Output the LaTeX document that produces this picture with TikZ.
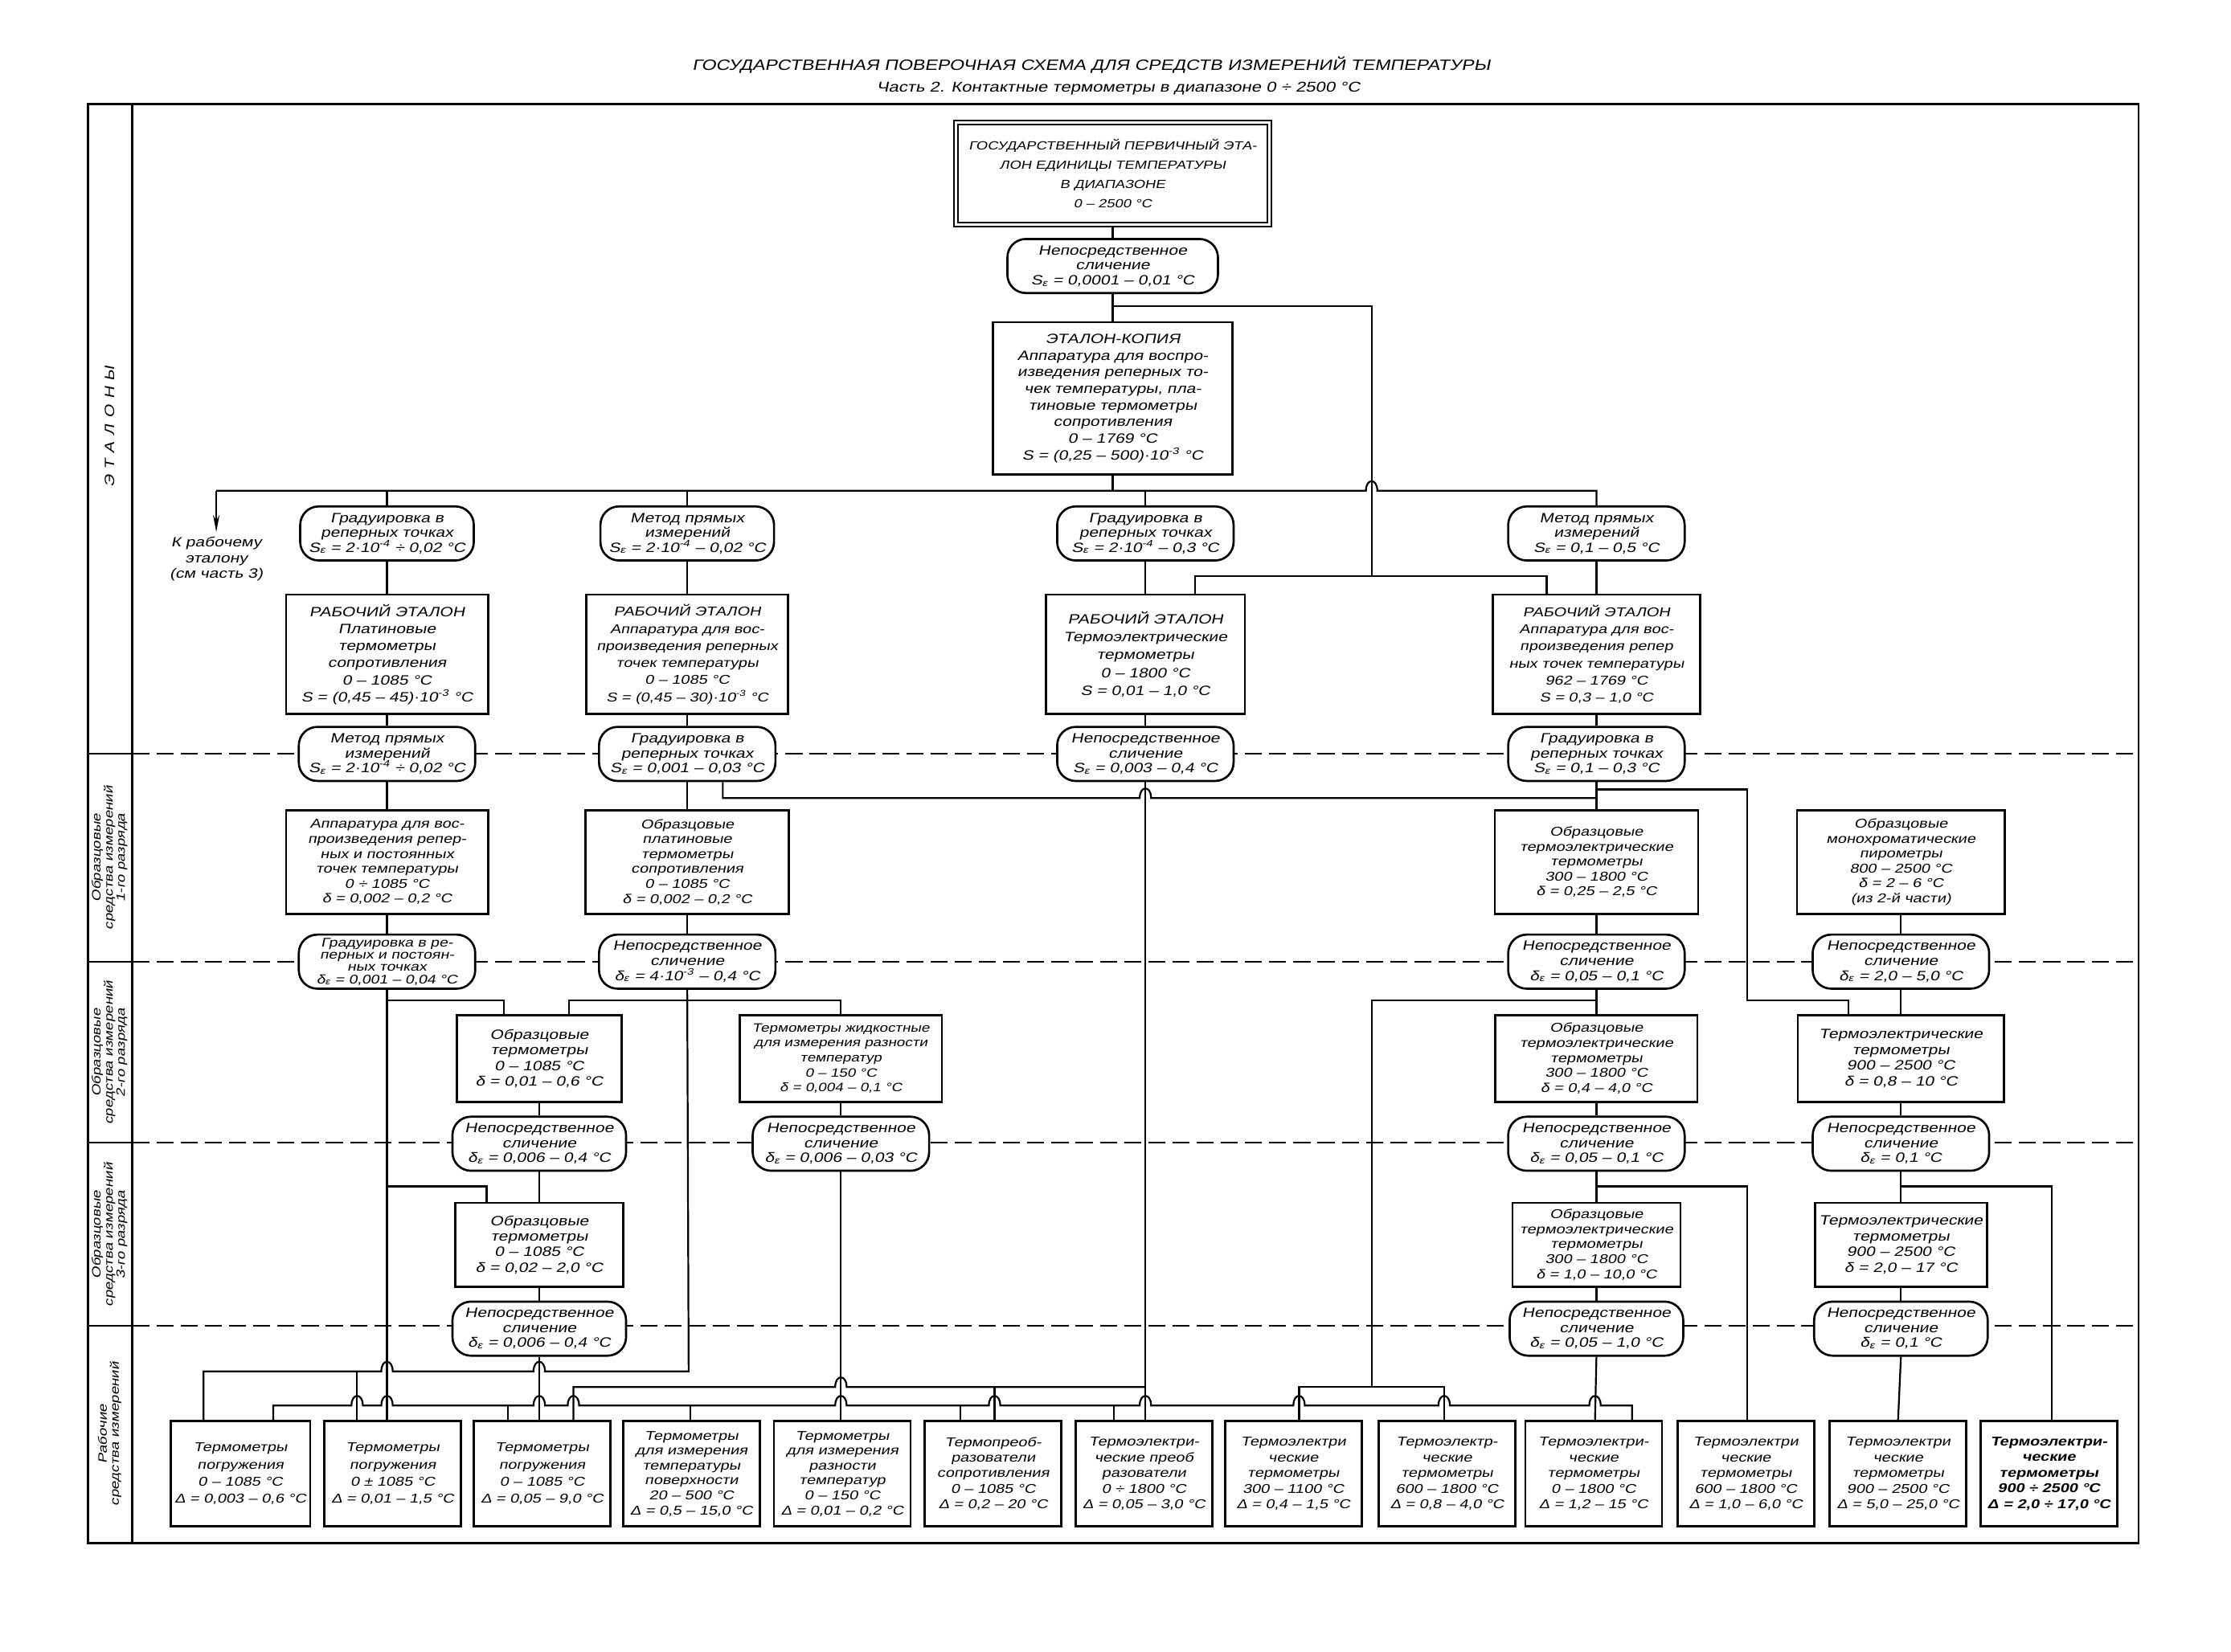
\documentclass[tikz,border=0pt]{standalone}
\usepackage{fontspec}
\setmainfont{Liberation Sans}[FakeSlant=0.2,FakeStretch=1.25]
\usetikzlibrary{arrows.meta}
\tikzset{
  ebox/.style={draw,line width=1.5pt,fill=white,align=center,inner sep=1pt,font=\fontsize{9}{10.5}\selectfont},
  oval/.style={ebox,rounded corners=13pt,minimum width=124,minimum height=38,font=\fontsize{9.5}{10.5}\selectfont},
  wbox/.style={ebox,minimum width=96,minimum height=74,font=\fontsize{9}{12}\selectfont},
  link/.style={line width=1.25pt},
  rowline/.style={line width=1pt,dash pattern=on 12pt off 5pt},
  side/.style={rotate=90,align=center,font=\fontsize{8.5}{8.5}\selectfont},
}
\newcommand{\hop}[2]{-- ({#1-4},#2) .. controls ({#1-4},{#2-9}) and ({#1+4},{#2-9}) .. ({#1+4},#2)}
\begin{document}
\begin{tikzpicture}[x=1pt,y=-1pt]
\useasboundingbox (0,0) rectangle (1568,1161);
\node[font=\fontsize{10.5}{12}\selectfont] (title) at (767,46) {ГОСУДАРСТВЕННАЯ ПОВЕРОЧНАЯ СХЕМА ДЛЯ СРЕДСТВ ИЗМЕРЕНИЙ ТЕМПЕРАТУРЫ};
\node[font=\fontsize{10}{12}\selectfont] (subtitle) at (786,62) {Часть 2. Контактные термометры в диапазоне 0 ÷ 2500 °C};
\draw[line width=1.6pt] (62,73) rectangle (1503,1085);
\draw[line width=1.4pt] (93,73) -- (93,1085);
\foreach \y in {530,676,803,932}{
  \draw[line width=1.2pt] (62,\y) -- (93,\y);
  \draw[rowline] (93,\y) -- (1503,\y);
}
\node[side,font=\fontsize{9.5}{9.5}\selectfont\addfontfeature{LetterSpace=45}] (lab0) at (77,300) {ЭТАЛОНЫ};
\node[side] (lab1) at (77,603) {Образцовые\\средства измерений\\1-го разряда};
\node[side] (lab2) at (77,740) {Образцовые\\средства измерений\\2-го разряда};
\node[side] (lab3) at (77,868) {Образцовые\\средства измерений\\3-го разряда};
\node[side] (lab4) at (77,1008) {Рабочие\\средства измерений};

\node[ebox,double,double distance=1.6pt,line width=1.2pt,minimum width=220,minimum height=72,font=\fontsize{8.3}{13.5}\selectfont] (prim) at (782,122) {ГОСУДАРСТВЕННЫЙ ПЕРВИЧНЫЙ ЭТА-\\ЛОН ЕДИНИЦЫ ТЕМПЕРАТУРЫ\\В ДИАПАЗОНЕ\\0 -- 2500 °C};
\node[oval,minimum width=148] (cmp0) at (782,187) {Непосредственное\\сличение\\S\textsubscript{ε} = 0,0001 -- 0,01 °C};
\node[ebox,minimum width=168,minimum height=107,font=\fontsize{9.5}{11.7}\selectfont] (copy) at (782,280) {ЭТАЛОН-КОПИЯ\\Аппаратура для воспро-\\изведения реперных то-\\чек температуры, пла-\\тиновые термометры\\сопротивления\\0 -- 1769 °C\\S = (0,25 -- 500)·10\textsuperscript{-3} °C};
\node[anchor=north,align=center,font=\fontsize{9.5}{11}\selectfont] (refnote) at (152,374) {К рабочему\\эталону\\(см часть 3)};

\node[oval,minimum width=122] (sr1) at (272,375) {Градуировка в\\реперных точках\\S\textsubscript{ε} = 2·10\textsuperscript{-4} ÷ 0,02 °C};
\node[oval,minimum width=122] (sr2) at (483,375) {Метод прямых\\измерений\\S\textsubscript{ε} = 2·10\textsuperscript{-4} -- 0,02 °C};
\node[oval] (sr3) at (805,375) {Градуировка в\\реперных точках\\S\textsubscript{ε} = 2·10\textsuperscript{-4} -- 0,3 °C};
\node[oval] (sr4) at (1122,375) {Метод прямых\\измерений\\S\textsubscript{ε} = 0,1 -- 0,5 °C};

\node[ebox,minimum width=142,minimum height=84,font=\fontsize{9.5}{12}\selectfont] (we1) at (272,460) {РАБОЧИЙ ЭТАЛОН\\Платиновые\\термометры\\сопротивления\\0 -- 1085 °C\\S = (0,45 -- 45)·10\textsuperscript{-3} °C};
\node[ebox,minimum width=142,minimum height=84,font=\fontsize{9}{12}\selectfont] (we2) at (483,460) {РАБОЧИЙ ЭТАЛОН\\Аппаратура для вос-\\произведения реперных\\точек температуры\\0 -- 1085 °C\\S = (0,45 -- 30)·10\textsuperscript{-3} °C};
\node[ebox,minimum width=140,minimum height=84,font=\fontsize{9.5}{12.5}\selectfont] (we3) at (805,460) {РАБОЧИЙ ЭТАЛОН\\Термоэлектрические\\термометры\\0 -- 1800 °C\\S = 0,01 -- 1,0 °C};
\node[ebox,minimum width=146,minimum height=84,font=\fontsize{9}{12}\selectfont] (we4) at (1122,460) {РАБОЧИЙ ЭТАЛОН\\Аппаратура для вос-\\произведения репер\\ных точек температуры\\962 -- 1769 °C\\S = 0,3 -- 1,0 °C};

\node[oval] (cr1) at (272,530) {Метод прямых\\измерений\\S\textsubscript{ε} = 2·10\textsuperscript{-4} ÷ 0,02 °C};
\node[oval] (cr2) at (483,530) {Градуировка в\\реперных точках\\S\textsubscript{ε} = 0,001 -- 0,03 °C};
\node[oval] (cr3) at (805,530) {Непосредственное\\сличение\\S\textsubscript{ε} = 0,003 -- 0,4 °C};
\node[oval] (cr4) at (1122,530) {Градуировка в\\реперных точках\\S\textsubscript{ε} = 0,1 -- 0,3 °C};

\node[ebox,minimum width=142,minimum height=73] (d1) at (272,606) {Аппаратура для вос-\\произведения репер-\\ных и постоянных\\точек температуры\\0 ÷ 1085 °C\\δ = 0,002 -- 0,2 °C};
\node[ebox,minimum width=143,minimum height=73] (d2) at (483,606) {Образцовые\\платиновые\\термометры\\сопротивления\\0 -- 1085 °C\\δ = 0,002 -- 0,2 °C};
\node[ebox,minimum width=143,minimum height=73] (d4) at (1122,606) {Образцовые\\термоэлектрические\\термометры\\300 -- 1800 °C\\δ = 0,25 -- 2,5 °C};
\node[ebox,minimum width=146,minimum height=73] (d5) at (1336,606) {Образцовые\\монохроматические\\пирометры\\800 -- 2500 °C\\δ = 2 -- 6 °C\\(из 2-й части)};

\node[oval,font=\fontsize{8.8}{8.6}\selectfont] (er1) at (272,676) {Градуировка в ре-\\перных и постоян-\\ных точках\\δ\textsubscript{ε} = 0,001 -- 0,04 °C};
\node[oval] (er2) at (483,676) {Непосредственное\\сличение\\δ\textsubscript{ε} = 4·10\textsuperscript{-3} -- 0,4 °C};
\node[oval] (er4) at (1122,676) {Непосредственное\\сличение\\δ\textsubscript{ε} = 0,05 -- 0,1 °C};
\node[oval] (er5) at (1336,676) {Непосредственное\\сличение\\δ\textsubscript{ε} = 2,0 -- 5,0 °C};

\node[ebox,minimum width=116,minimum height=61,font=\fontsize{9.5}{11}\selectfont] (f2) at (379,744) {Образцовые\\термометры\\0 -- 1085 °C\\δ = 0,01 -- 0,6 °C};
\node[ebox,minimum width=142,minimum height=61,font=\fontsize{8.5}{10.5}\selectfont] (f3) at (591,744) {Термометры жидкостные\\для измерения разности\\температур\\0 -- 150 °C\\δ = 0,004 -- 0,1 °C};
\node[ebox,minimum width=142,minimum height=61] (f4) at (1122,744) {Образцовые\\термоэлектрические\\термометры\\300 -- 1800 °C\\δ = 0,4 -- 4,0 °C};
\node[ebox,minimum width=145,minimum height=61,font=\fontsize{9.5}{11}\selectfont] (f5) at (1336,744) {Термоэлектрические\\термометры\\900 -- 2500 °C\\δ = 0,8 -- 10 °C};

\node[oval,minimum width=122] (gr2) at (379,804) {Непосредственное\\сличение\\δ\textsubscript{ε} = 0,006 -- 0,4 °C};
\node[oval] (gr3) at (591,804) {Непосредственное\\сличение\\δ\textsubscript{ε} = 0,006 -- 0,03 °C};
\node[oval] (gr4) at (1122,804) {Непосредственное\\сличение\\δ\textsubscript{ε} = 0,05 -- 0,1 °C};
\node[oval] (gr5) at (1336,804) {Непосредственное\\сличение\\δ\textsubscript{ε} = 0,1 °C};

\node[ebox,minimum width=118,minimum height=59,font=\fontsize{9.5}{11}\selectfont] (h2) at (379,875) {Образцовые\\термометры\\0 -- 1085 °C\\δ = 0,02 -- 2,0 °C};
\node[ebox,minimum width=118,minimum height=59] (h4) at (1122,875) {Образцовые\\термоэлектрические\\термометры\\300 -- 1800 °C\\δ = 1,0 -- 10,0 °C};
\node[ebox,minimum width=121,minimum height=59,font=\fontsize{9.5}{11}\selectfont] (h5) at (1336,875) {Термоэлектрические\\термометры\\900 -- 2500 °C\\δ = 2,0 -- 17 °C};

\node[oval,minimum width=122] (ir2) at (379,934) {Непосредственное\\сличение\\δ\textsubscript{ε} = 0,006 -- 0,4 °C};
\node[oval,minimum width=122] (ir4) at (1122,934) {Непосредственное\\сличение\\δ\textsubscript{ε} = 0,05 -- 1,0 °C};
\node[oval,minimum width=122] (ir5) at (1336,934) {Непосредственное\\сличение\\δ\textsubscript{ε} = 0,1 °C};

\node[wbox,minimum width=98] (j1) at (169,1036) {Термометры\\погружения\\0 -- 1085 °C\\Δ = 0,003 -- 0,6 °C};
\node[wbox] (j2) at (276,1036) {Термометры\\погружения\\0 ± 1085 °C\\Δ = 0,01 -- 1,5 °C};
\node[wbox] (j3) at (381,1036) {Термометры\\погружения\\0 -- 1085 °C\\Δ = 0,05 -- 9,0 °C};
\node[wbox,font=\fontsize{9}{10.5}\selectfont] (j4) at (486,1036) {Термометры\\для измерения\\температуры\\поверхности\\20 -- 500 °C\\Δ = 0,5 -- 15,0 °C};
\node[wbox,font=\fontsize{9}{10.5}\selectfont] (j5) at (592,1036) {Термометры\\для измерения\\разности\\температур\\0 -- 150 °C\\Δ = 0,01 -- 0,2 °C};
\node[wbox,font=\fontsize{9}{11}\selectfont] (j6) at (698,1036) {Термопреоб-\\разователи\\сопротивления\\0 -- 1085 °C\\Δ = 0,2 -- 20 °C};
\node[wbox,font=\fontsize{9}{11}\selectfont] (j7) at (804,1036) {Термоэлектри-\\ческие преоб\\разователи\\0 ÷ 1800 °C\\Δ = 0,05 -- 3,0 °C};
\node[wbox,font=\fontsize{9}{11}\selectfont] (j8) at (909,1036) {Термоэлектри\\ческие\\термометры\\300 -- 1100 °C\\Δ = 0,4 -- 1,5 °C};
\node[wbox,font=\fontsize{9}{11}\selectfont] (j9) at (1017,1036) {Термоэлектр-\\ческие\\термометры\\600 -- 1800 °C\\Δ = 0,8 -- 4,0 °C};
\node[wbox,font=\fontsize{9}{11}\selectfont] (j10) at (1120,1036) {Термоэлектри-\\ческие\\термометры\\0 -- 1800 °C\\Δ = 1,2 -- 15 °C};
\node[wbox,font=\fontsize{9}{11}\selectfont] (j11) at (1227,1036) {Термоэлектри\\ческие\\термометры\\600 -- 1800 °C\\Δ = 1,0 -- 6,0 °C};
\node[wbox,font=\fontsize{9}{11}\selectfont] (j12) at (1334,1036) {Термоэлектри\\ческие\\термометры\\900 -- 2500 °C\\Δ = 5,0 -- 25,0 °C};
\node[wbox,font=\fontsize{9}{11}\selectfont\bfseries] (j13) at (1440,1036) {Термоэлектри-\\ческие\\термометры\\900 ÷ 2500 °C\\Δ = 2,0 ÷ 17,0 °C};

\draw[link] (prim.south) -- (cmp0.north);
\draw[link] (cmp0.south) -- (copy.north);
\draw[link] (cmp0.south |- 0,215) -- (964,215) -- (964,405);
\draw[link] (copy.south) -- (782,345);
\draw[link] (152,345) \hop{964}{345} -- (1122,345) -- (sr4.north);
\draw[link,-{Stealth[length=12pt,width=4.5pt]}] (152,345) -- (refnote.north);
\foreach \n in {sr1,sr2,sr3}
  \draw[link] (\n.north |- 0,345) -- (\n.north);
\draw[link] (840,0 |- we3.north) -- (840,405) -- (1087,405) -- (1087,0 |- we4.north);
\draw[link] (sr1.south) -- (we1.north) (we1.south) -- (cr1.north) (cr1.south) -- (d1.north) (d1.south) -- (er1.north);
\draw[link] (sr2.south) -- (we2.north) (we2.south) -- (cr2.north) (cr2.south) -- (d2.north) (d2.south) -- (er2.north);
\draw[link] (sr3.south) -- (we3.north) (we3.south) -- (cr3.north);
\draw[link] (sr4.south) -- (we4.north) (we4.south) -- (cr4.north) (cr4.south) -- (d4.north) (d4.south) -- (er4.north);
\draw[link] (er4.south) -- (f4.north) (f4.south) -- (gr4.north) (gr4.south) -- (h4.north) (h4.south) -- (ir4.north);
\draw[link] (d5.south) -- (er5.north) (er5.south) -- (f5.north) (f5.south) -- (gr5.north) (gr5.south) -- (h5.north) (h5.south) -- (ir5.north);
\draw[link] (f2.south) -- (gr2.north) (gr2.south) -- (h2.north) (h2.south) -- (ir2.north);
\draw[link] (f3.south) -- (gr3.north);
\draw[link] (508,0 |- cr2.south) -- (508,561) \hop{805}{561} -- (1122,561);
\draw[link] (1122,555) -- (1228,555) -- (1228,703) -- (1299,703) -- (1299,0 |- f5.north);
\draw[link] (er1.south) -- (272,0 |- j2.north);
\draw[link] (272,703) -- (354,703) -- (354,0 |- f2.north);
\draw[link] (272,834) -- (342,834) -- (342,0 |- h2.north);
\draw[link] (400,0 |- f2.north) -- (400,703) -- (591,703) -- (f3.north);
\draw[link] (cr3.south) -- (805,0 |- j7.north);
\draw[link] (gr3.south) -- (591,0 |- j5.north);
\draw[link] (ir2.south) -- (379,0 |- j3.north);
\draw[link] (1122,703) -- (964,703) -- (964,975);
\draw[link] (913,0 |- j8.north) -- (913,975) -- (1015,975) -- (1015,0 |- j9.north);
\draw[link] (ir4.south) -- (1121,0 |- j10.north);
\draw[link] (1122,834) -- (1228,834) -- (1228,0 |- j11.north);
\draw[link] (ir5.south) -- (j12.north);
\draw[link] (1336,834) -- (1442,834) -- (1442,0 |- j13.north);
% buses above the bottom row
\draw[link] (143,0 |- j1.north) -- (143,964) \hop{272}{964} \hop{379}{964} -- (484,964) -- (er2.south);
\draw[link] (251,964) -- (251,0 |- j2.north);
\draw[link] (192,0 |- j1.north) -- (192,988) \hop{251}{988} \hop{272}{988} -- (357,988) \hop{379}{988} \hop{403}{988} -- (485,988) \hop{591}{988} -- (675,988) \hop{699}{988} -- (783,988) \hop{805}{988} \hop{913}{988} \hop{1015}{988} \hop{1121}{988} -- (1147,988) -- (1147,0 |- j10.north);
\draw[link] (357,988) -- (357,0 |- j3.north) (485,988) -- (485,0 |- j4.north) (675,988) -- (675,0 |- j6.north) (783,988) -- (783,0 |- j7.north);
\draw[link] (403,0 |- j3.north) -- (403,975) \hop{591}{975} -- (805,975);
\draw[link] (699,975) -- (699,0 |- j6.north);
\end{tikzpicture}
\end{document}
